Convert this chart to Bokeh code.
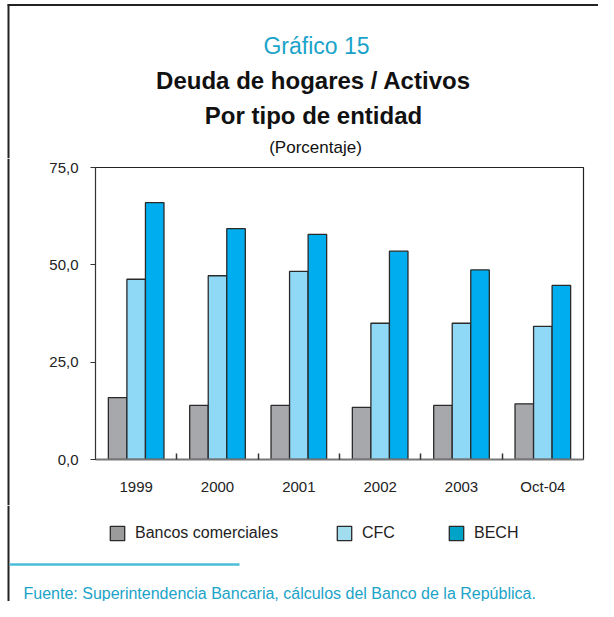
from bokeh.plotting import figure
from bokeh.models import Range1d, FixedTicker, Label, Legend, LegendItem, ColumnDataSource
from bokeh.layouts import row, column
from bokeh.transform import dodge
from bokeh.embed import file_html
from bokeh.resources import INLINE

categories = ["1999", "2000", "2001", "2002", "2003", "Oct-04"]
bancos = [15.9, 13.9, 13.9, 13.4, 13.9, 14.3]
cfc = [46.3, 47.2, 48.3, 35.0, 35.0, 34.2]
bech = [66.0, 59.3, 57.8, 53.5, 48.7, 44.7]
series_names = ["Bancos comerciales", "CFC", "BECH"]
y_ticks = [0, 25, 50, 75]
y_tick_labels = ["0,0", "25,0", "50,0", "75,0"]

FONT = "Liberation Sans"
DARK = "#222222"
CYAN = "#1aa3c9"

TOTAL_W, TOTAL_H = 598, 601
STRIP_W = 10
INNER_W = TOTAL_W - STRIP_W
HEAD_END = 158     # header page y 0..158
MAIN_END = 505     # chart page y 158..505, footer 505..601
FL, FR, FT, FB = 95, 583, 167, 459   # plot frame, page pixels
RULE_X = 8         # left page rule


def blank(width, height, x0, x1, y0, y1):
    f = figure(width=width, height=height, output_backend="svg", toolbar_location=None,
               x_range=Range1d(x0, x1), y_range=Range1d(y1, y0),
               x_axis_location=None, y_axis_location=None, min_border=0)
    f.grid.visible = False
    f.outline_line_color = None
    f.background_fill_color = "white"
    f.border_fill_color = "white"
    return f


def text(fig, s, x, y, size, color="#111111", style="normal", align="center"):
    fig.add_layout(Label(x=x, y=y, text=s, text_font=FONT, text_font_size=size,
                         text_color=color, text_font_style=style, text_align=align,
                         text_baseline="alphabetic"))


# ---- header: page rule and titles ----------------------------------------------
head = blank(TOTAL_W, HEAD_END, 0, TOTAL_W, 0, HEAD_END)
head.segment(x0=[RULE_X - 1], y0=[4.5], x1=[TOTAL_W], y1=[4.5], line_color=DARK, line_width=2)
head.segment(x0=[RULE_X], y0=[4], x1=[RULE_X], y1=[HEAD_END], line_color=DARK, line_width=2)
text(head, "Gráfico 15", 316, 45, "23px", color=CYAN)
text(head, "Deuda de hogares / Activos", 313, 80, "24px", style="bold")
text(head, "Por tipo de entidad", 313, 115, "24px", style="bold")
text(head, "(Porcentaje)", 315, 147, "17px")

# ---- left strip with the page rule beside the chart ---------------------------
strip = blank(STRIP_W, MAIN_END - HEAD_END, 0, STRIP_W, HEAD_END, MAIN_END)
strip.segment(x0=[RULE_X], y0=[HEAD_END], x1=[RULE_X], y1=[MAIN_END], line_color=DARK,
              line_width=2)

# ---- main chart --------------------------------------------------------------
p = figure(width=INNER_W, height=MAIN_END - HEAD_END, output_backend="svg",
           toolbar_location=None,
           x_range=Range1d(0, len(categories)), y_range=Range1d(0, 75),
           min_border_left=FL - STRIP_W, min_border_right=TOTAL_W - FR,
           min_border_top=FT - HEAD_END, min_border_bottom=MAIN_END - FB)
p.background_fill_color = "white"
p.border_fill_color = "white"
p.grid.visible = False
p.outline_line_color = DARK
p.outline_line_width = 1.2

centers = [i + 0.5 for i in range(len(categories))]
bw = 0.228
src = ColumnDataSource(dict(x=centers, bancos=bancos, cfc=cfc, bech=bech))
bar_cols = ["#a6a8ab", "#8fd8f6", "#00aeef"]
for key, off, c in zip(["bancos", "cfc", "bech"], [-bw, 0, bw], bar_cols):
    p.vbar(x=dodge("x", off), top=key, width=bw, bottom=0, source=src,
           fill_color=c, line_color="#2a2a2a", line_width=1.3)

xa = p.xaxis[0]
xa.ticker = FixedTicker(ticks=centers, minor_ticks=[float(i) for i in range(1, len(categories))])
xa.major_label_overrides = {c: lab for c, lab in zip(centers, categories)}
xa.major_tick_in = 0
xa.major_tick_out = 0
xa.minor_tick_in = 6
xa.minor_tick_out = 0
xa.minor_tick_line_color = "#333333"
xa.minor_tick_line_width = 1.5
xa.axis_line_color = "#777777"
xa.axis_line_width = 2
xa.major_label_text_font = FONT
xa.major_label_text_font_size = "15px"
xa.major_label_text_color = DARK
xa.major_label_standoff = 18

ya = p.yaxis[0]
ya.ticker = FixedTicker(ticks=y_ticks)
ya.major_label_overrides = {t: lab for t, lab in zip(y_ticks, y_tick_labels)}
ya.minor_tick_line_color = None
ya.major_tick_in = 0
ya.major_tick_out = 5
ya.major_tick_line_color = "#333333"
ya.axis_line_color = "#333333"
ya.major_label_text_font = FONT
ya.major_label_text_font_size = "15px"
ya.major_label_text_color = DARK
ya.major_label_standoff = 12

# ---- footer: legend, rule and source -----------------------------------------
foot = blank(TOTAL_W, TOTAL_H - MAIN_END, 0, TOTAL_W, MAIN_END, TOTAL_H)
foot.segment(x0=[RULE_X], y0=[MAIN_END], x1=[RULE_X], y1=[TOTAL_H],
             line_color=DARK, line_width=2)
foot.segment(x0=[RULE_X + 1], y0=[564], x1=[239], y1=[564], line_color="#4cbcd8",
             line_width=2.5)
text(foot, "Fuente: Superintendencia Bancaria, cálculos del Banco de la República.",
     23, 593, "16px", color="#1ba3c8", align="left")

# legend swatches: renderers with no drawable point, only their styling is used
nan_src = ColumnDataSource(dict(x=[float("nan")], top=[float("nan")]))
leg_cols = ["#9b9b9b", "#a2dcef", "#00a3c8"]
leg_x = [108, 335, 447]
for name, c, lx in zip(series_names, leg_cols, leg_x):
    r = foot.vbar(x="x", top="top", width=1, source=nan_src, fill_color=c,
                  line_color="#2a2a2a", line_width=1.3)
    foot.add_layout(Legend(items=[LegendItem(label=name, renderers=[r])],
                           location=(lx, TOTAL_H - 542),
                           glyph_width=18, glyph_height=18, label_standoff=9,
                           padding=0, margin=0, border_line_color=None,
                           background_fill_alpha=0, label_text_font=FONT,
                           label_text_font_size="16px", label_text_color=DARK,
                           label_height=18))

layout = column(head, row(column(strip), column(p)), foot)
open("out.html", "w").write(file_html(layout, INLINE))
